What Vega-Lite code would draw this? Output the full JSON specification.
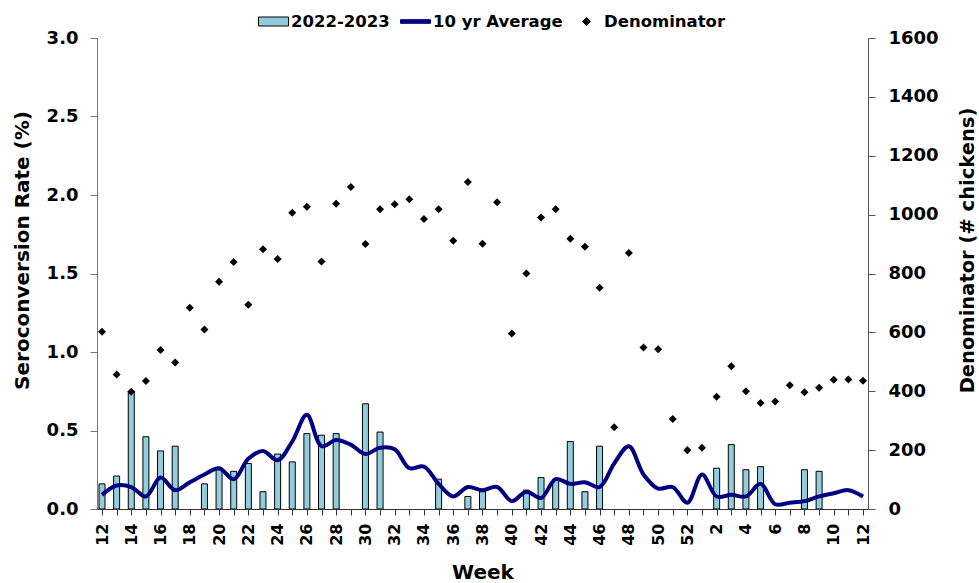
{
  "$schema": "https://vega.github.io/schema/vega-lite/v6.json",
  "width": 771,
  "height": 471,
  "autosize": "none",
  "padding": {"left": 97, "top": 38, "right": 111, "bottom": 74},
  "background": "white",
  "config": {
    "font": "DejaVu Sans",
    "view": {"stroke": null},
    "axis": {"labelFont": "DejaVu Sans", "labelFontWeight": "bold", "labelColor": "#000000", "titleFont": "DejaVu Sans", "titleFontWeight": "bold", "titleColor": "#000000", "grid": false},
    "legend": {
      "title": null,
      "orient": "none",
      "direction": "horizontal",
      "legendX": 161,
      "legendY": -32,
      "padding": 0,
      "labelFont": "DejaVu Sans",
      "labelFontWeight": "bold",
      "labelFontSize": 16.5,
      "labelColor": "#000000",
      "labelOffset": 2,
      "columnPadding": 8,
      "symbolSize": 900,
      "symbolStrokeWidth": 1,
      "symbolOpacity": 1
    }
  },
  "data": {
    "values": [
      {"i": 0, "week": 12, "rate": 0.16, "avg": 0.09, "den": 602},
      {"i": 1, "week": 13, "rate": 0.21, "avg": 0.15, "den": 457},
      {"i": 2, "week": 14, "rate": 0.75, "avg": 0.14, "den": 398},
      {"i": 3, "week": 15, "rate": 0.46, "avg": 0.08, "den": 435},
      {"i": 4, "week": 16, "rate": 0.37, "avg": 0.20, "den": 540},
      {"i": 5, "week": 17, "rate": 0.40, "avg": 0.12, "den": 498},
      {"i": 6, "week": 18, "rate": null, "avg": 0.17, "den": 684},
      {"i": 7, "week": 19, "rate": 0.16, "avg": 0.22, "den": 610},
      {"i": 8, "week": 20, "rate": 0.25, "avg": 0.26, "den": 772},
      {"i": 9, "week": 21, "rate": 0.24, "avg": 0.19, "den": 839},
      {"i": 10, "week": 22, "rate": 0.29, "avg": 0.32, "den": 694},
      {"i": 11, "week": 23, "rate": 0.11, "avg": 0.37, "den": 882},
      {"i": 12, "week": 24, "rate": 0.35, "avg": 0.31, "den": 849},
      {"i": 13, "week": 25, "rate": 0.30, "avg": 0.43, "den": 1006},
      {"i": 14, "week": 26, "rate": 0.48, "avg": 0.60, "den": 1027},
      {"i": 15, "week": 27, "rate": 0.47, "avg": 0.40, "den": 841},
      {"i": 16, "week": 28, "rate": 0.48, "avg": 0.44, "den": 1037},
      {"i": 17, "week": 29, "rate": null, "avg": 0.41, "den": 1094},
      {"i": 18, "week": 30, "rate": 0.67, "avg": 0.35, "den": 900},
      {"i": 19, "week": 31, "rate": 0.49, "avg": 0.39, "den": 1018},
      {"i": 20, "week": 32, "rate": null, "avg": 0.38, "den": 1035},
      {"i": 21, "week": 33, "rate": null, "avg": 0.26, "den": 1052},
      {"i": 22, "week": 34, "rate": null, "avg": 0.27, "den": 985},
      {"i": 23, "week": 35, "rate": 0.19, "avg": 0.16, "den": 1018},
      {"i": 24, "week": 36, "rate": null, "avg": 0.08, "den": 911},
      {"i": 25, "week": 37, "rate": 0.08, "avg": 0.14, "den": 1111},
      {"i": 26, "week": 38, "rate": 0.11, "avg": 0.12, "den": 901},
      {"i": 27, "week": 39, "rate": null, "avg": 0.14, "den": 1042},
      {"i": 28, "week": 40, "rate": null, "avg": 0.05, "den": 596},
      {"i": 29, "week": 41, "rate": 0.12, "avg": 0.11, "den": 800},
      {"i": 30, "week": 42, "rate": 0.20, "avg": 0.07, "den": 990},
      {"i": 31, "week": 43, "rate": 0.19, "avg": 0.19, "den": 1018},
      {"i": 32, "week": 44, "rate": 0.43, "avg": 0.16, "den": 918},
      {"i": 33, "week": 45, "rate": 0.11, "avg": 0.17, "den": 891},
      {"i": 34, "week": 46, "rate": 0.40, "avg": 0.14, "den": 752},
      {"i": 35, "week": 47, "rate": null, "avg": 0.29, "den": 278},
      {"i": 36, "week": 48, "rate": null, "avg": 0.40, "den": 870},
      {"i": 37, "week": 49, "rate": null, "avg": 0.22, "den": 549},
      {"i": 38, "week": 50, "rate": null, "avg": 0.13, "den": 543},
      {"i": 39, "week": 51, "rate": null, "avg": 0.14, "den": 306},
      {"i": 40, "week": 52, "rate": null, "avg": 0.04, "den": 200},
      {"i": 41, "week": 1, "rate": null, "avg": 0.22, "den": 208},
      {"i": 42, "week": 2, "rate": 0.26, "avg": 0.08, "den": 381},
      {"i": 43, "week": 3, "rate": 0.41, "avg": 0.09, "den": 485},
      {"i": 44, "week": 4, "rate": 0.25, "avg": 0.08, "den": 400},
      {"i": 45, "week": 5, "rate": 0.27, "avg": 0.16, "den": 360},
      {"i": 46, "week": 6, "rate": null, "avg": 0.03, "den": 365},
      {"i": 47, "week": 7, "rate": null, "avg": 0.04, "den": 420},
      {"i": 48, "week": 8, "rate": 0.25, "avg": 0.05, "den": 397},
      {"i": 49, "week": 9, "rate": 0.24, "avg": 0.08, "den": 412},
      {"i": 50, "week": 10, "rate": null, "avg": 0.10, "den": 439},
      {"i": 51, "week": 11, "rate": null, "avg": 0.12, "den": 440},
      {"i": 52, "week": 12, "rate": null, "avg": 0.08, "den": 436}
    ]
  },
  "encoding": {
    "x": {
      "field": "i",
      "type": "quantitative",
      "scale": {"domain": [0, 52], "nice": false, "zero": false},
      "axis": {
        "title": "Week",
        "titleFontSize": 20,
        "titleY": 63,
        "titleBaseline": "middle",
        "values": [0,1,2,3,4,5,6,7,8,9,10,11,12,13,14,15,16,17,18,19,20,21,22,23,24,25,26,27,28,29,30,31,32,33,34,35,36,37,38,39,40,41,42,43,44,45,46,47,48,49,50,51,52],
        "labelExpr": "datum.value % 2 == 0 ? '' + (datum.value <= 40 ? datum.value + 12 : datum.value - 40) : ''",
        "labelAngle": 270,
        "labelFontSize": 16,
        "labelPadding": 8,
        "labelOverlap": false,
        "labelFlush": false,
        "tickSize": 6,
        "domainColor": "#333333",
        "tickColor": "#333333"
      }
    }
  },
  "layer": [
    {
      "layer": [
        {
          "mark": {"type": "bar", "size": 6, "stroke": "#000000", "strokeWidth": 1, "clip": true},
          "encoding": {
            "y": {
              "field": "rate",
              "type": "quantitative",
              "scale": {"domain": [0, 3], "nice": false},
              "axis": {
                "title": "Seroconversion Rate (%)",
                "orient": "left",
                "values": [0, 0.5, 1, 1.5, 2, 2.5, 3],
                "format": ".1f",
                "labelFontSize": 18,
                "labelPadding": 12,
                "tickSize": 7,
                "domainColor": "#777777",
                "tickColor": "#777777",
                "titleFontSize": 20,
                "titleAngle": 270,
                "titleX": -75,
                "titleY": 212,
                "titleAlign": "center",
                "titleBaseline": "middle"
              }
            },
            "fill": {
              "datum": "2022-2023",
              "type": "nominal",
              "scale": {"domain": ["2022-2023", "10 yr Average", "Denominator"], "range": ["#93CDDD", "#000080", "#000000"]}
            }
          }
        },
        {
          "mark": {"type": "line", "interpolate": "catmull-rom", "strokeWidth": 4, "clip": true},
          "encoding": {
            "y": {"field": "avg", "type": "quantitative", "title": "Seroconversion Rate (%)"},
            "stroke": {
              "datum": "10 yr Average",
              "type": "nominal",
              "scale": {"domain": ["2022-2023", "10 yr Average", "Denominator"], "range": ["#000000", "#000080", "#000000"]}
            }
          }
        }
      ]
    },
    {
      "mark": {"type": "point", "filled": true, "opacity": 1, "size": 880},
      "encoding": {
        "y": {
          "field": "den",
          "type": "quantitative",
          "scale": {"domain": [0, 1600], "nice": false},
          "axis": {
            "title": "Denominator (# chickens)",
            "orient": "right",
            "values": [0, 200, 400, 600, 800, 1000, 1200, 1400, 1600],
            "format": "d",
            "labelFontSize": 18,
            "labelPadding": 13,
            "tickSize": 7,
            "domainColor": "#555555",
            "tickColor": "#555555",
            "titleFontSize": 19.5,
            "titleAngle": 270,
            "titleX": 99,
            "titleY": 212,
            "titleAlign": "center",
            "titleBaseline": "middle"
          }
        },
        "fill": {"datum": "Denominator", "type": "nominal"},
        "shape": {
          "datum": "Denominator",
          "type": "nominal",
          "scale": {"domain": ["2022-2023", "10 yr Average", "Denominator"], "range": ["M-1,-0.3H1V0.3H-1Z", "M-1,-0.12H1V0.12H-1Z", "M-0.27,0L0,-0.27L0.27,0L0,0.27Z"]}
        }
      }
    }
  ],
  "resolve": {"scale": {"y": "independent"}}
}
